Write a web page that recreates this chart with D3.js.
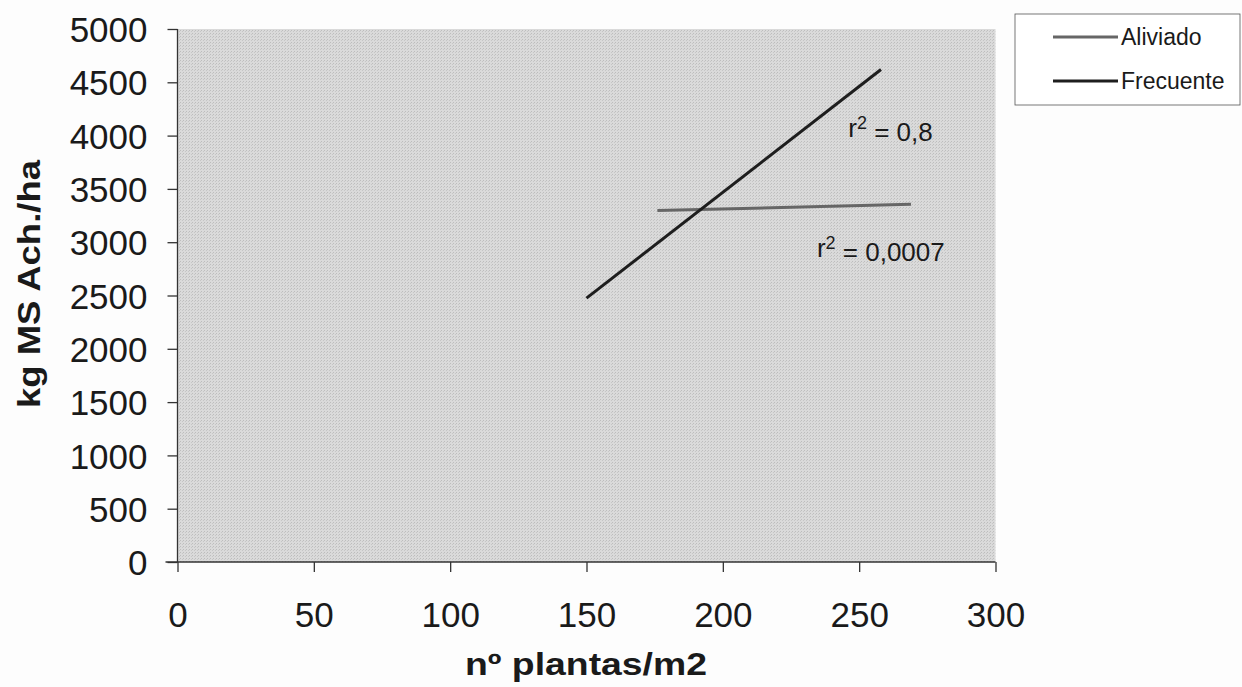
<!DOCTYPE html>
<html>
<head>
<meta charset="utf-8">
<script src="https://cdn.jsdelivr.net/npm/d3@7"></script>
<style>
  html, body { margin: 0; padding: 0; background: #fdfdfd; }
  svg { display: block; }
  text { font-family: "Liberation Sans", Arial, sans-serif; fill: #1a1a1a; }
</style>
</head>
<body>
<svg id="chart" width="1242" height="687"></svg>
<script>
// ---- data ----
const xTicks = [0, 50, 100, 150, 200, 250, 300];
const yTicks = [0, 500, 1000, 1500, 2000, 2500, 3000, 3500, 4000, 4500, 5000];
const seriesNames = ["Aliviado", "Frecuente"];
const aliviadoX = [176, 269];
const aliviadoY = [3297, 3356];
const frecuenteX = [150, 258];
const frecuenteY = [2475, 4620];
const r2Labels = ["0,8", "0,0007"];
const r2AnchorX = [246, 234.5];
const r2AnchorY = [3987, 2861];
const xTitle = "nº plantas/m2";
const yTitle = "kg MS Ach./ha";

// ---- layout ----
const svg = d3.select("#chart");
const x = d3.scaleLinear().domain([0, 300]).range([177.5, 995.5]);
const y = d3.scaleLinear().domain([0, 5000]).range([562, 29]);

// stipple pattern for plot area
const defs = svg.append("defs");
const pat = defs.append("pattern").attr("id", "stip").attr("width", 3).attr("height", 3)
  .attr("patternUnits", "userSpaceOnUse");
pat.append("rect").attr("width", 3).attr("height", 3).attr("fill", "#dadada");
pat.append("rect").attr("x", 0).attr("y", 0).attr("width", 1).attr("height", 1).attr("fill", "#bdbdbd");
pat.append("rect").attr("x", 2).attr("y", 1).attr("width", 1).attr("height", 1).attr("fill", "#c6c6c6");

svg.append("rect")
  .attr("x", x(0)).attr("y", y(5000))
  .attr("width", x(300) - x(0)).attr("height", y(0) - y(5000))
  .attr("fill", "url(#stip)");

// axes
const yAxis = d3.axisLeft(y).tickValues(yTicks).tickSize(10).tickPadding(20).tickFormat(d3.format("d"));
const gy = svg.append("g").attr("transform", `translate(${x(0)},0)`).call(yAxis);
gy.selectAll("text").style("font-size", "35px").attr("dy", "0.36em");
gy.selectAll("line, path").attr("stroke", "#333").attr("stroke-width", 1.3);
gy.select(".domain").attr("d", `M0,${y(5000)}V${y(0)}`);

const xAxis = d3.axisBottom(x).tickValues(xTicks).tickSize(10).tickPadding(30).tickFormat(d3.format("d"));
const gx = svg.append("g").attr("transform", `translate(0,${y(0)})`).call(xAxis);
gx.selectAll("text").style("font-size", "35px").attr("dy", "0.71em");
gx.selectAll("line, path").attr("stroke", "#333").attr("stroke-width", 1.3);
gx.select(".domain").attr("d", `M${x(0) - 12},0H${x(300)}`);

// trend lines
const line = d3.line().x(d => x(d[0])).y(d => y(d[1]));
svg.append("path")
  .datum(d3.zip(aliviadoX, aliviadoY))
  .attr("d", line).attr("fill", "none").attr("stroke", "#666").attr("stroke-width", 3);
svg.append("path")
  .datum(d3.zip(frecuenteX, frecuenteY))
  .attr("d", line).attr("fill", "none").attr("stroke", "#1e1e1e").attr("stroke-width", 3);

// r² labels
r2Labels.forEach((lab, i) => {
  const t = svg.append("text")
    .attr("x", x(r2AnchorX[i])).attr("y", y(r2AnchorY[i]))
    .style("font-size", "26px");
  t.append("tspan").text("r");
  t.append("tspan").attr("dy", "-0.45em").style("font-size", "18px").text("2");
  t.append("tspan").attr("dy", "0.45em").text(" = " + lab);
});

// axis titles
svg.append("text")
  .attr("x", 586).attr("y", 675)
  .attr("text-anchor", "middle")
  .attr("textLength", 242).attr("lengthAdjust", "spacingAndGlyphs")
  .style("font-size", "31px").style("font-weight", "bold")
  .text(xTitle);

svg.append("text")
  .attr("transform", "translate(40,284) rotate(-90)")
  .attr("text-anchor", "middle")
  .attr("textLength", 248).attr("lengthAdjust", "spacingAndGlyphs")
  .style("font-size", "31px").style("font-weight", "bold")
  .text(yTitle);

// legend
const lg = svg.append("g");
lg.append("rect").attr("x", 1015).attr("y", 14).attr("width", 225).attr("height", 91)
  .attr("fill", "#fff").attr("stroke", "#555").attr("stroke-width", 0.8);
const legColors = ["#666", "#1e1e1e"];
const legY = [37, 81];
seriesNames.forEach((n, i) => {
  lg.append("line").attr("x1", 1053).attr("x2", 1118).attr("y1", legY[i]).attr("y2", legY[i])
    .attr("stroke", legColors[i]).attr("stroke-width", 3);
  lg.append("text").attr("x", 1121).attr("y", legY[i]).attr("dy", "0.36em")
    .style("font-size", "23px").text(n);
});
</script>
</body>
</html>
